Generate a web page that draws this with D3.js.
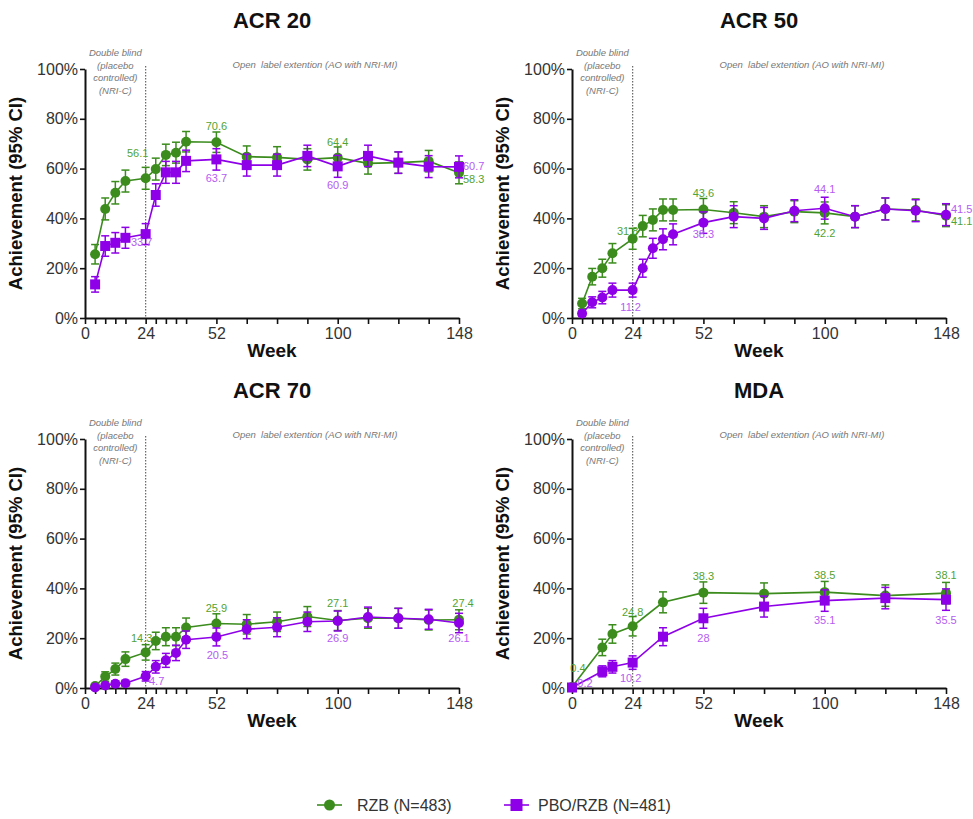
<!DOCTYPE html>
<html>
<head>
<meta charset="utf-8">
<script src="https://cdn.jsdelivr.net/npm/d3@7"></script>
<style>
  body { margin: 0; background: #fff; }
  svg { display: block; font-family: "Liberation Sans", Arial, sans-serif; }
</style>
</head>
<body>
<svg id="chart" width="973" height="819"></svg>
<script>
// ---------------- DATA ----------------
const panelTitles = ["ACR 20", "ACR 50", "ACR 70", "MDA"];
const seriesNames = ["RZB (N=483)", "PBO/RZB (N=481)"];

const acrWeeks = [4, 8, 12, 16, 24, 28, 32, 36, 40, 52, 64, 76, 88, 100, 112, 124, 136, 148];
const mdaWeeks = [0, 12, 16, 24, 36, 52, 76, 100, 124, 148];

const acr20Rzb   = [25.6, 43.8, 50.3, 55.0, 56.1, 59.8, 65.5, 66.4, 70.8, 70.6, 64.8, 64.5, 63.7, 64.4, 62.1, 62.4, 63.0, 58.3];
const acr20RzbCI = [3.9, 4.4, 4.5, 4.4, 4.4, 4.4, 4.3, 4.2, 4.1, 4.1, 4.3, 4.3, 4.3, 4.3, 4.3, 4.3, 4.3, 4.4];
const acr20Pbo   = [13.5, 28.9, 30.2, 32.2, 33.7, 49.4, 58.5, 58.5, 63.1, 63.7, 61.4, 61.4, 65.1, 60.9, 65.1, 62.4, 60.8, 60.7];
const acr20PboCI = [3.1, 4.1, 4.1, 4.2, 4.2, 4.5, 4.4, 4.4, 4.3, 4.3, 4.4, 4.4, 4.3, 4.4, 4.3, 4.3, 4.4, 4.4];

const acr50Rzb   = [5.8, 16.6, 20.0, 26.0, 31.8, 36.9, 39.4, 43.4, 43.4, 43.6, 42.3, 40.7, 42.7, 42.2, 40.7, 43.8, 43.4, 41.1];
const acr50RzbCI = [2.1, 3.3, 3.6, 3.9, 4.2, 4.3, 4.4, 4.4, 4.4, 4.4, 4.4, 4.4, 4.4, 4.4, 4.4, 4.4, 4.4, 4.4];
const acr50Pbo   = [1.8, 6.3, 8.2, 11.2, 11.2, 20.0, 28.0, 31.6, 33.6, 38.3, 40.7, 40.0, 43.1, 44.1, 40.7, 43.8, 43.1, 41.5];
const acr50PboCI = [1.2, 2.2, 2.5, 2.8, 2.8, 3.6, 4.0, 4.2, 4.2, 4.3, 4.4, 4.4, 4.4, 4.4, 4.4, 4.4, 4.4, 4.4];

const acr70Rzb   = [0.8, 4.6, 7.6, 11.6, 14.3, 18.9, 20.6, 20.6, 24.3, 25.9, 25.6, 26.6, 28.7, 27.1, 28.0, 28.0, 27.3, 27.4];
const acr70RzbCI = [0.8, 1.9, 2.4, 2.9, 3.1, 3.5, 3.6, 3.6, 3.8, 3.9, 3.9, 3.9, 4.0, 4.0, 4.0, 4.0, 4.0, 4.0];
const acr70Pbo   = [0.2, 1.0, 1.7, 1.9, 4.7, 8.5, 11.1, 14.1, 19.4, 20.5, 23.6, 24.4, 26.6, 26.9, 28.5, 28.0, 27.6, 26.1];
const acr70PboCI = [0.4, 0.9, 1.2, 1.2, 1.9, 2.5, 2.8, 3.1, 3.5, 3.6, 3.8, 3.8, 3.9, 4.0, 4.0, 4.0, 4.0, 3.9];

const mdaRzb   = [0.4, 16.3, 21.7, 24.8, 34.4, 38.3, 37.9, 38.5, 37.1, 38.1];
const mdaRzbCI = [0.6, 3.3, 3.7, 3.9, 4.2, 4.3, 4.3, 4.3, 4.3, 4.3];
const mdaPbo   = [0.2, 6.7, 8.5, 10.2, 20.6, 28.0, 32.7, 35.1, 36.1, 35.5];
const mdaPboCI = [0.4, 2.2, 2.5, 2.7, 3.6, 4.0, 4.2, 4.3, 4.3, 4.3];

const xTickWeeks = [0, 4, 8, 12, 16, 24, 28, 32, 36, 40, 52, 64, 76, 88, 100, 112, 124, 136, 148];
const xTickLabels = [0, 24, 52, 100, 148];
const yTicks = [0, 20, 40, 60, 80, 100];

const phaseTexts = ["Double blind", "(placebo", "controlled)", "(NRI-C)"];
const extensionText = "Open  label extention (AO with NRI-MI)";

// ---------------- LAYOUT / STYLE ----------------
const GREEN = "#3b8c1d", PURPLE = "#8e00e8";
const GREEN_LBL = "#52a332", PURPLE_LBL = "#b45cf2";
const PW = 374, PH = 249;

// label placement: [seriesIndex, week, dx, dy, anchor]
const labelPlacement = [
  [[0, 24, -8, -25, "middle"], [0, 52, 0, -16, "middle"], [0, 100, 0, -16, "middle"], [0, 148, 4, 6, "start"],
   [1, 24, -4, 8, "middle"], [1, 52, 0, 19, "middle"], [1, 100, 0, 19, "middle"], [1, 148, 4, -1, "start"]],
  [[0, 24, -5, -8, "middle"], [0, 52, 0, -16, "middle"], [0, 100, 0, 20, "middle"], [0, 148, 5, 5, "start"],
   [1, 24, -2, 17, "middle"], [1, 52, 0, 11, "middle"], [1, 100, 0, -19, "middle"], [1, 148, 5, -6, "start"]],
  [[0, 24, -4, -14, "middle"], [0, 52, 0, -16, "middle"], [0, 100, 0, -18, "middle"], [0, 148, 4, -17, "middle"],
   [1, 24, 11, 5, "middle"], [1, 52, 1, 18, "middle"], [1, 100, 0, 17, "middle"], [1, 148, 0, 15, "middle"]],
  [[0, 0, 6, -19, "middle"], [0, 24, 0, -14, "middle"], [0, 52, 0, -17, "middle"], [0, 100, 0, -17, "middle"], [0, 148, 0, -18, "middle"],
   [1, 0, 13, -5, "middle"], [1, 24, -2, 15, "middle"], [1, 52, 0, 20, "middle"], [1, 100, 0, 19, "middle"], [1, 148, 0, 20, "middle"]]
];

const panels = [
  { x0: 85,  y0: 69,  weeks: acrWeeks, s: [[acr20Rzb, acr20RzbCI], [acr20Pbo, acr20PboCI]], pboShape: "square" },
  { x0: 572, y0: 69,  weeks: acrWeeks, s: [[acr50Rzb, acr50RzbCI], [acr50Pbo, acr50PboCI]], pboShape: "circle" },
  { x0: 85,  y0: 439, weeks: acrWeeks, s: [[acr70Rzb, acr70RzbCI], [acr70Pbo, acr70PboCI]], pboShape: "circle" },
  { x0: 572, y0: 439, weeks: mdaWeeks, s: [[mdaRzb, mdaRzbCI], [mdaPbo, mdaPboCI]], pboShape: "square" }
];

const svg = d3.select("#chart");

function drawMarker(g, shape, cx, cy, color) {
  if (shape === "square") {
    g.append("rect").attr("x", cx - 5).attr("y", cy - 5).attr("width", 10).attr("height", 10).attr("fill", color);
  } else if (shape === "bigcircle") {
    g.append("circle").attr("cx", cx).attr("cy", cy).attr("r", 5.5).attr("fill", color);
  } else {
    g.append("circle").attr("cx", cx).attr("cy", cy).attr("r", 5).attr("fill", color);
  }
}

panels.forEach((p, pi) => {
  const x = d3.scaleLinear().domain([0, 148]).range([p.x0, p.x0 + PW]);
  const y = d3.scaleLinear().domain([0, 100]).range([p.y0 + PH, p.y0]);
  const g = svg.append("g");

  // title
  g.append("text").attr("x", p.x0 + PW / 2).attr("y", p.y0 - 41)
    .attr("text-anchor", "middle").attr("font-size", 22).attr("font-weight", "bold").attr("fill", "#111")
    .text(panelTitles[pi]);

  // phase annotations
  phaseTexts.forEach((t, i) => {
    g.append("text").attr("x", x(12)).attr("y", p.y0 - 13 + i * 12.5)
      .attr("text-anchor", "middle").attr("font-size", 9.5).attr("font-style", "italic").attr("fill", "#777")
      .text(t);
  });
  g.append("text").attr("x", x(91)).attr("y", p.y0 - 1).attr("xml:space", "preserve")
    .attr("text-anchor", "middle").attr("font-size", 9.5).attr("font-style", "italic").attr("fill", "#777")
    .text(extensionText);

  // dotted separator at week 24
  g.append("line").attr("x1", x(24)).attr("x2", x(24)).attr("y1", p.y0 - 3).attr("y2", p.y0 + PH)
    .attr("stroke", "#666").attr("stroke-width", 1.2).attr("stroke-dasharray", "1.5,1.5");

  // axes
  const ya = g.append("g").attr("transform", `translate(${p.x0},0)`)
    .call(d3.axisLeft(y).tickValues(yTicks).tickFormat(d => d + "%").tickSize(5).tickSizeOuter(0).tickPadding(2));
  const xa = g.append("g").attr("transform", `translate(0,${p.y0 + PH})`)
    .call(d3.axisBottom(x).tickValues(xTickWeeks).tickFormat(d => xTickLabels.includes(d) ? d : "").tickSize(6).tickSizeOuter(0).tickPadding(4));
  [ya, xa].forEach(a => {
    a.select(".domain").attr("stroke", "#111").attr("stroke-width", 2);
    a.selectAll(".tick line").attr("stroke", "#111").attr("stroke-width", 1.6);
    a.selectAll(".tick text").attr("font-size", 16).attr("fill", "#333").attr("font-family", "Liberation Sans, Arial, sans-serif");
  });

  // axis titles
  g.append("text").attr("transform", `translate(${p.x0 - 63},${p.y0 + PH / 2}) rotate(-90)`)
    .attr("text-anchor", "middle").attr("font-size", 18.5).attr("font-weight", "bold").attr("fill", "#111")
    .text("Achievement (95% CI)");
  g.append("text").attr("x", p.x0 + PW / 2).attr("y", p.y0 + PH + 39)
    .attr("text-anchor", "middle").attr("font-size", 19).attr("font-weight", "bold").attr("fill", "#111")
    .text("Week");

  // series
  p.s.forEach(([vals, ci], si) => {
    const color = si === 0 ? GREEN : PURPLE;
    const shape = si === 0 ? "circle" : p.pboShape;
    const pts = p.weeks.map((w, i) => ({ w, v: vals[i], e: ci[i] }));
    const sg = g.append("g");
    sg.append("path").datum(pts)
      .attr("d", d3.line().x(d => x(d.w)).y(d => y(d.v)))
      .attr("fill", "none").attr("stroke", color).attr("stroke-width", 1.6);
    pts.forEach(d => {
      const cx = x(d.w), lo = y(Math.max(0, d.v - d.e)), hi = y(d.v + d.e);
      sg.append("line").attr("x1", cx).attr("x2", cx).attr("y1", lo).attr("y2", hi)
        .attr("stroke", color).attr("stroke-width", 1.5);
      [lo, hi].forEach(yy => sg.append("line").attr("x1", cx - 4).attr("x2", cx + 4).attr("y1", yy).attr("y2", yy)
        .attr("stroke", color).attr("stroke-width", 1.5));
      drawMarker(sg, shape, cx, y(d.v), color);
    });
  });

  // value labels
  labelPlacement[pi].forEach(([si, wk, dx, dy, anchor]) => {
    const idx = p.weeks.indexOf(wk);
    const v = p.s[si][0][idx];
    g.append("text").attr("x", x(wk) + dx).attr("y", y(v) + dy)
      .attr("dominant-baseline", "central").attr("text-anchor", anchor)
      .attr("font-size", 11).attr("fill", si === 0 ? GREEN_LBL : PURPLE_LBL)
      .text(v);
  });
});

// legend
const lg = svg.append("g");
const legendItems = [
  { x: 317, color: GREEN, shape: "circle", tx: 357 },
  { x: 504, color: PURPLE, shape: "square", tx: 538 }
];
legendItems.forEach((it, i) => {
  lg.append("line").attr("x1", it.x).attr("x2", it.x + 25).attr("y1", 805).attr("y2", 805)
    .attr("stroke", it.color).attr("stroke-width", 1.6);
  if (it.shape === "square") {
    lg.append("rect").attr("x", it.x + 12.5 - 6).attr("y", 805 - 6).attr("width", 12).attr("height", 12).attr("fill", it.color);
  } else {
    lg.append("circle").attr("cx", it.x + 12.5).attr("cy", 805).attr("r", 5.5).attr("fill", it.color);
  }
  lg.append("text").attr("x", it.tx).attr("y", 805).attr("dominant-baseline", "central")
    .attr("font-size", 16).attr("fill", "#333").text(seriesNames[i]);
});
</script>
</body>
</html>
